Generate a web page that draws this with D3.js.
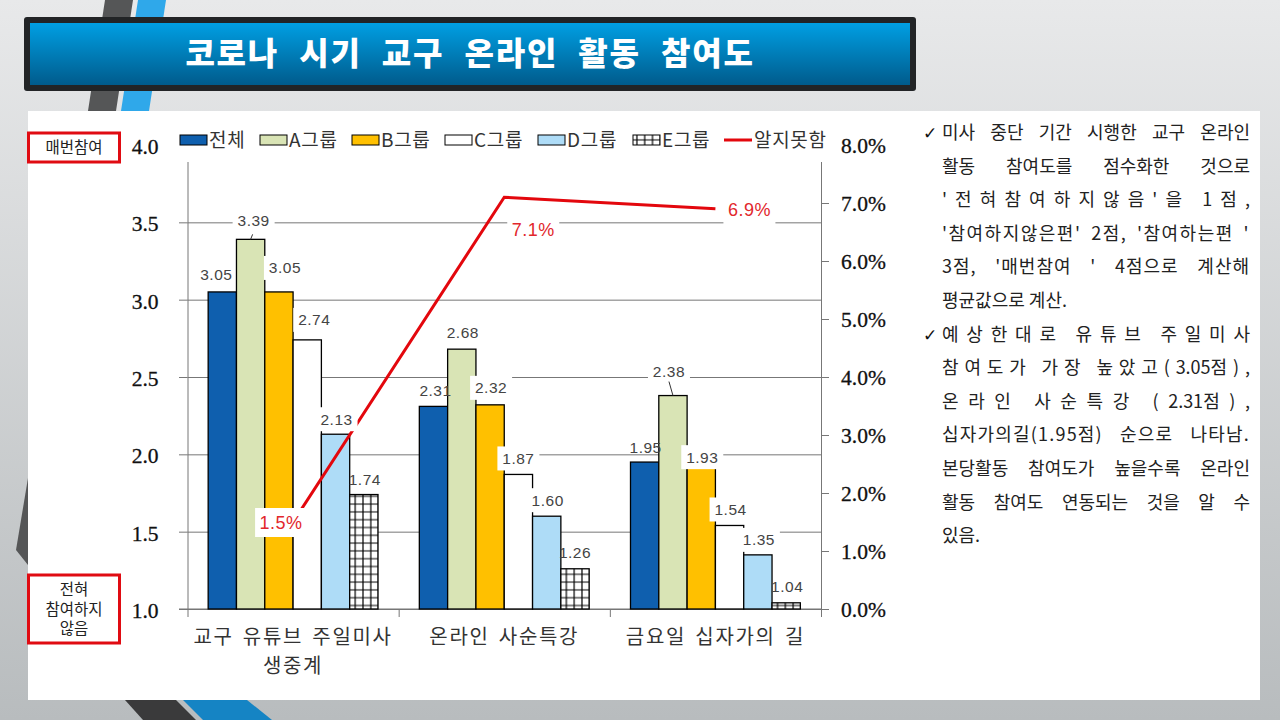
<!DOCTYPE html>
<html>
<head>
<meta charset="utf-8">
<script src="https://cdn.jsdelivr.net/npm/d3@7"></script>
<style>
  html, body { margin: 0; padding: 0; background: #fff; }
  svg { display: block; }
  text { font-family: "Noto Sans CJK KR", "Noto Sans", sans-serif; }
  .num { font-family: "Liberation Sans", Arial, sans-serif; }
  .axis-num { font-family: "Liberation Serif", serif; font-size: 21.5px; fill: #111; stroke: #111; stroke-width: 0.3px; }
</style>
</head>
<body>
<div id="chart"></div>
<script>
const titleText = '코로나 시기 교구 온라인 활동 참여도';
const categories = [['교구 유튜브 주일미사', '생중계'], ['온라인 사순특강'], ['금요일 십자가의 길']];
const groups = ['전체', 'A그룹', 'B그룹', 'C그룹', 'D그룹', 'E그룹'];
const groupColors = ['#0f5fae', '#d9e4b5', '#ffc000', '#ffffff', '#aedcf7', 'url(#grid)'];
const lineName = '알지못함';

const scoreChurchMass = [3.05, 3.39, 3.05, 2.74, 2.13, 1.74];
const scoreOnlineLent = [2.31, 2.68, 2.32, 1.87, 1.60, 1.26];
const scoreWayOfCross = [1.95, 2.38, 1.93, 1.54, 1.35, 1.04];
const unknownShare = [1.5, 7.1, 6.9];

const scoreTicks = [1.0, 1.5, 2.0, 2.5, 3.0, 3.5, 4.0];
const shareTicks = [0, 1, 2, 3, 4, 5, 6, 7, 8];

const noteLines = [
  '미사 중단 기간 시행한 교구 온라인',
  '활동 참여도를 점수화한 것으로',
  "'전혀참여하지않음'을 1점,",
  "'참여하지않은편' 2점, '참여하는편 '",
  "3점, '매번참여 ' 4점으로 계산해",
  '평균값으로 계산.',
  '예상한대로 유튜브 주일미사',
  '참여도가 가장 높았고(3.05점),',
  '온라인 사순특강 (2.31점),',
  '십자가의길(1.95점) 순으로 나타남.',
  '본당활동 참여도가 높을수록 온라인',
  '활동 참여도 연동되는 것을 알 수',
  '있음.'
];

const W = 1280, H = 720;
const svg = d3.select('#chart').append('svg').attr('width', W).attr('height', H);
const defs = svg.append('defs');

function vGradient(id, from, to) {
  const g = defs.append('linearGradient').attr('id', id).attr('x1', 0).attr('y1', 0).attr('x2', 0).attr('y2', 1);
  g.append('stop').attr('offset', '0%').attr('stop-color', from);
  g.append('stop').attr('offset', '100%').attr('stop-color', to);
}
vGradient('bg', '#e8e9ea', '#b8bcbe');
vGradient('titleFill', '#009fe3', '#005b8c');

const pat = defs.append('pattern').attr('id', 'grid').attr('patternUnits', 'userSpaceOnUse')
  .attr('x', 0).attr('y', 1).attr('width', 7.8).attr('height', 7.8);
pat.append('rect').attr('width', 7.8).attr('height', 7.8).attr('fill', '#fff');
pat.append('path').attr('d', 'M0 3.9H7.8M3.9 0V7.8').attr('stroke', '#000').attr('stroke-width', 1.2).attr('fill', 'none');

/* Slide background */
svg.append('rect').attr('width', W).attr('height', H).attr('fill', 'url(#bg)');
const deco = [
  ['#555657', [[105, 0], [133, 0], [116, 111], [88, 111]]],
  ['#2fa8ea', [[138, 0], [166, 0], [149, 111], [121, 111]]],
  ['#555657', [[28, 478], [16, 550], [28, 565]]],
  ['#3a3a3b', [[125, 700], [176, 700], [196, 720], [143, 720]]],
  ['#1584c4', [[183, 700], [247, 700], [272, 720], [203, 720]]]
];
svg.append('g').selectAll('polygon').data(deco).join('polygon')
  .attr('fill', d => d[0])
  .attr('points', d => d[1].join(' '));

/* Title bar */
svg.append('rect').attr('x', 24).attr('y', 17).attr('width', 892).attr('height', 74).attr('rx', 3).attr('fill', '#222426');
svg.append('rect').attr('x', 30).attr('y', 23).attr('width', 880).attr('height', 62).attr('fill', 'url(#titleFill)');
svg.append('text').attr('x', 470).attr('y', 65)
  .attr('text-anchor', 'middle').attr('fill', '#fff')
  .attr('font-size', 32).attr('font-weight', 900)
  .style('letter-spacing', '1.8px').style('word-spacing', '11px')
  .text(titleText);

/* White panel */
svg.append('rect').attr('x', 28).attr('y', 111).attr('width', 1232).attr('height', 589).attr('fill', '#fff');

/* Scales */
const plot = { left: 187.5, right: 821, top: 145, bottom: 609 };
const allScores = [scoreChurchMass, scoreOnlineLent, scoreWayOfCross];
const x0 = d3.scaleBand().domain(d3.range(categories.length)).range([plot.left, plot.right]);
const x1 = d3.scaleBand().domain(groups).range([0, x0.bandwidth()]).paddingInner(0).paddingOuter(0.73);
const y = d3.scaleLinear().domain([1, 4]).range([plot.bottom, plot.top]);
const yShare = d3.scaleLinear().domain([0, 8]).range([plot.bottom, plot.top]);

/* Axes */
const axisColor = '#777';
const gridG = svg.append('g').attr('transform', `translate(${plot.left},0)`)
  .call(d3.axisLeft(y).tickValues(scoreTicks).tickSize(-(plot.right - plot.left)).tickFormat(''));
gridG.select('.domain').remove();
gridG.selectAll('line').attr('stroke', axisColor).attr('stroke-width', 1);

const leftAxis = svg.append('g').attr('transform', `translate(${plot.left},0)`)
  .call(d3.axisLeft(y).tickValues(scoreTicks).tickSize(8.5).tickPadding(0).tickFormat(d3.format('.1f')));
const rightAxis = svg.append('g').attr('transform', `translate(${plot.right},0)`)
  .call(d3.axisRight(yShare).tickValues(shareTicks).tickSize(8).tickPadding(0).tickFormat(d => d.toFixed(1) + '%'));
const bottomTicks = d3.range(categories.length + 1).map(i => plot.left + i * x0.step());
svg.append('g').attr('transform', `translate(0,${plot.bottom})`)
  .call(d3.axisBottom(d3.scaleIdentity()).tickValues(bottomTicks).tickSize(8).tickFormat(''))
  .call(g => g.select('.domain').remove())
  .selectAll('line').attr('stroke', axisColor);
svg.append('line').attr('x1', plot.left - 8.5).attr('x2', plot.right)
  .attr('y1', plot.bottom).attr('y2', plot.bottom).attr('stroke', axisColor).attr('stroke-width', 1.2);

[leftAxis, rightAxis].forEach(a => {
  a.selectAll('.domain').attr('stroke', axisColor);
  a.selectAll('.tick line').attr('stroke', axisColor);
});
leftAxis.selectAll('text').attr('class', 'axis-num').attr('x', -29).attr('dy', '0.4em');
rightAxis.selectAll('text').attr('class', 'axis-num').attr('x', 20).attr('dy', '0.36em');

/* Bars */
const barG = svg.append('g').selectAll('g').data(allScores).join('g')
  .attr('transform', (d, i) => `translate(${x0(i)},0)`);
barG.selectAll('rect').data(d => d.map((v, i) => ({ v, name: groups[i], color: groupColors[i] }))).join('rect')
  .attr('x', d => x1(d.name))
  .attr('y', d => y(d.v))
  .attr('width', x1.bandwidth())
  .attr('height', d => plot.bottom - y(d.v))
  .attr('fill', d => d.color)
  .attr('stroke', '#000')
  .attr('stroke-width', 1.3);

/* Unknown share line */
const lineX = i => x0(i) + x0.bandwidth() / 2;
svg.append('path')
  .datum(unknownShare)
  .attr('fill', 'none').attr('stroke', '#e3070d').attr('stroke-width', 3)
  .attr('d', d3.line().x((d, i) => lineX(i)).y(d => yShare(d)));

/* Legend: white strip hides the axis tops */
svg.append('rect').attr('x', 179).attr('y', 128).attr('width', 650).attr('height', 34).attr('fill', '#fff');
const legendX = [180, 260, 352, 445, 538, 633];
const legend = svg.append('g').selectAll('g').data(groups).join('g')
  .attr('transform', (d, i) => `translate(${legendX[i]},135)`);
legend.append('rect').attr('width', 27).attr('height', 10)
  .attr('fill', (d, i) => groupColors[i]).attr('stroke', '#000').attr('stroke-width', 1);
legend.append('text').attr('x', 29).attr('y', 11.5).attr('font-size', 19).attr('fill', '#333')
  .style('letter-spacing', '0.7px').text(d => d);
svg.append('line').attr('x1', 724).attr('x2', 752).attr('y1', 140).attr('y2', 140)
  .attr('stroke', '#e3070d').attr('stroke-width', 3);
svg.append('text').attr('x', 754).attr('y', 146.5).attr('font-size', 19).attr('fill', '#333')
  .style('letter-spacing', '0.7px').text(lineName);

/* Value labels: offset from the bar top, white box where the label sits on something */
const labelOffsets = [
  [[-6, -17], [3, -19], [6, -24], [7, -20], [1, -15], [1, -15]],
  [[2, -16], [1, -17], [1, -17], [0, -16], [1, -16], [0, -16]],
  [[1, -15], [-4, -24], [1, -8], [1, -16], [1, -15], [1, -16]]
];
const labelBoxed = [
  [0, 1, 1, 1, 1, 0],
  [0, 1, 1, 1, 1, 0],
  [0, 1, 1, 1, 1, 0]
];
const labelG = svg.append('g');
allScores.forEach((series, gi) => {
  series.forEach((v, si) => {
    const cx = x0(gi) + x1(groups[si]) + x1.bandwidth() / 2 + labelOffsets[gi][si][0];
    const cy = y(v) + labelOffsets[gi][si][1];
    if (labelBoxed[gi][si]) {
      labelG.append('rect').attr('x', cx - 21).attr('y', cy - 12).attr('width', 42).attr('height', 24).attr('fill', '#fff');
    }
    labelG.append('text').attr('class', 'num')
      .attr('x', cx).attr('y', cy + 5.5)
      .attr('text-anchor', 'middle').attr('font-size', 15.5).attr('fill', '#444')
      .style('letter-spacing', '0.5px')
      .text(v.toFixed(2));
  });
});
/* short leaders */
const leaders = [[0, 1, 2, -5], [2, 1, -4, -14]];
leaders.forEach(([gi, si, dx, dy]) => {
  const cx = x0(gi) + x1(groups[si]) + x1.bandwidth() / 2;
  const ty = y(allScores[gi][si]);
  labelG.append('line').attr('x1', cx).attr('y1', ty).attr('x2', cx + dx).attr('y2', ty + dy)
    .attr('stroke', '#333').attr('stroke-width', 1);
});

/* Line labels */
const shareOffsets = [[-12, 0], [29, 32], [34, 1]];
unknownShare.forEach((v, i) => {
  const cx = lineX(i) + shareOffsets[i][0], cy = yShare(v) + shareOffsets[i][1];
  labelG.append('rect').attr('x', cx - 26).attr('y', cy - 14).attr('width', 52).attr('height', 29).attr('fill', '#fff');
  labelG.append('text').attr('class', 'num').attr('x', cx).attr('y', cy + 6.5)
    .attr('text-anchor', 'middle').attr('font-size', 18).attr('fill', '#e2272c')
    .style('letter-spacing', '0.5px').text(v.toFixed(1) + '%');
});

/* Category labels */
const catG = svg.append('g').selectAll('text').data(categories).join('text')
  .attr('x', (d, i) => lineX(i)).attr('y', 643.5)
  .attr('text-anchor', 'middle').attr('font-size', 20).attr('fill', '#333')
  .style('letter-spacing', '1.7px').style('word-spacing', '3px');
catG.selectAll('tspan').data(d => d).join('tspan')
  .attr('x', function () { return this.parentNode.getAttribute('x'); })
  .attr('dy', (d, i) => i ? 29 : 0)
  .text(d => d);

/* Red side labels */
const sideBoxes = [
  { y: 133, h: 29, lines: ['매번참여'] },
  { y: 575, h: 68, lines: ['전혀', '참여하지', '않음'] }
];
sideBoxes.forEach(b => {
  svg.append('rect').attr('x', 28.5).attr('y', b.y).attr('width', 91).attr('height', b.h)
    .attr('fill', '#fff').attr('stroke', '#e00b12').attr('stroke-width', 3);
  b.lines.forEach((t, i) => {
    svg.append('text').attr('x', 74).attr('y', b.y + b.h / 2 + (i - (b.lines.length - 1) / 2) * 19.5 + 5.5)
      .attr('text-anchor', 'middle').attr('font-size', 15.5).attr('fill', '#222').text(t);
  });
});

/* Notes on the right, justified line by line */
const noteX = 942, noteRight = 1250, noteTop = 139, noteStep = 33.6;
const noteWidth = noteRight - noteX;
const noteTexts = svg.append('g').selectAll('text').data(noteLines).join('text')
  .attr('x', noteX).attr('y', (d, i) => noteTop + i * noteStep)
  .attr('font-size', 18).attr('fill', '#222');
const spacedLines = [2, 6, 7, 8];
const unjustified = [5, 12];
const baseLetter = { 3: 1.5, 4: 1, 9: 1.2 };
const isScore = p => /^\d\.\d+$/.test(p);
noteTexts.each(function (d, i) {
  const el = d3.select(this);
  if (spacedLines.includes(i)) {
    // hangul gets the letter spacing, the score in brackets stays tight
    const parts = d.split(/(\d\.\d+)/);
    const spans = el.selectAll('tspan').data(parts).join('tspan').text(p => p);
    const count = d3.sum(parts, p => isScore(p) ? 0 : p.length);
    let extra = 0;
    for (let pass = 0; pass < 4; pass++) {
      // the last glyph's spacing trails past the edge, so it does not count
      extra += (noteWidth + extra - this.getComputedTextLength()) / count;
      spans.filter(p => !isScore(p)).style('letter-spacing', extra + 'px');
    }
    return;
  }
  el.text(d);
  if (baseLetter[i]) el.style('letter-spacing', baseLetter[i] + 'px');
  if (unjustified.includes(i)) return;
  const gaps = d.split(' ').length - 1;
  let extra = 0;
  // two passes, word-spacing does not always land exactly on the first one
  for (let pass = 0; pass < 2; pass++) {
    extra += (noteWidth - this.getComputedTextLength()) / gaps;
    el.style('word-spacing', extra + 'px');
  }
});
[0, 6].forEach(i => {
  svg.append('text').attr('x', 923).attr('y', noteTop + i * noteStep)
    .attr('font-size', 17).attr('font-weight', 700).attr('fill', '#111').style('font-family', '"DejaVu Sans"').text('\u2713');
});
</script>
</body>
</html>
